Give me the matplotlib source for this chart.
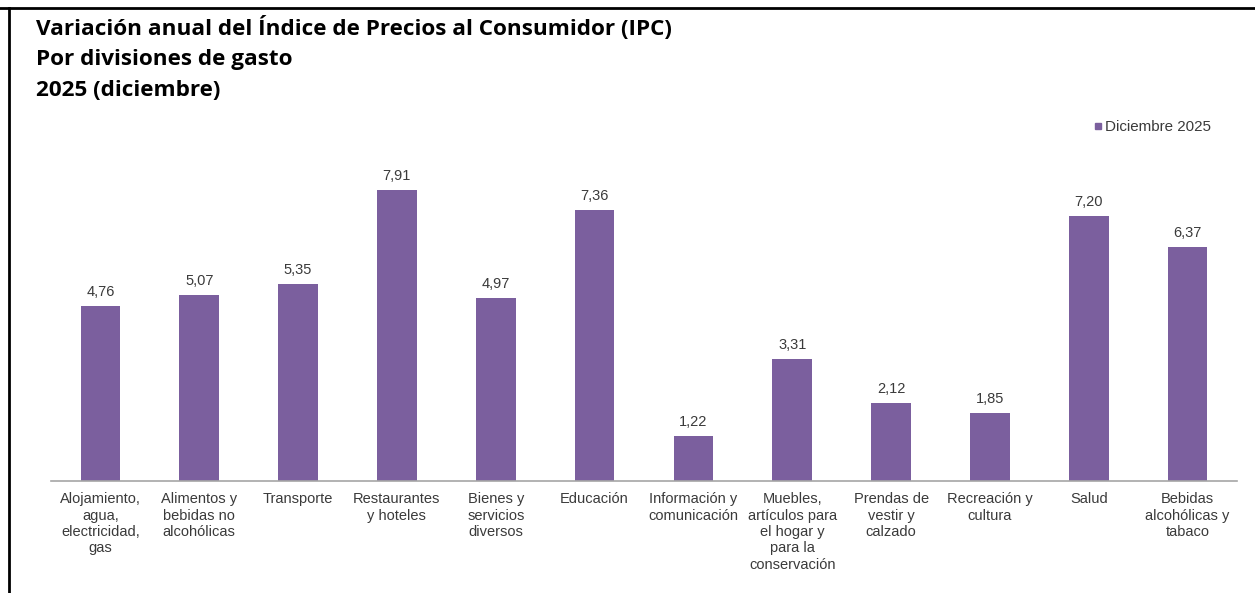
import matplotlib
matplotlib.use('Agg')
import matplotlib.pyplot as plt
from matplotlib.lines import Line2D
import numpy as np

# ======= data
categorias = ['Alojamiento,\nagua,\nelectricidad,\ngas',
              'Alimentos y\nbebidas no\nalcohólicas',
              'Transporte',
              'Restaurantes\ny hoteles',
              'Bienes y\nservicios\ndiversos',
              'Educación',
              'Información y\ncomunicación',
              'Muebles,\nartículos para\nel hogar y\npara la\nconservación',
              'Prendas de\nvestir y\ncalzado',
              'Recreación y\ncultura',
              'Salud',
              'Bebidas\nalcohólicas y\ntabaco']
valores = [4.76, 5.07, 5.35, 7.91, 4.97, 7.36, 1.22, 3.31, 2.12, 1.85, 7.20, 6.37]
serie = 'Diciembre 2025'
titulo = ['Variación anual del Índice de Precios al Consumidor (IPC)',
          'Por divisiones de gasto',
          '2025 (diciembre)']

color_barra = '#7b5f9e'
txt_color = '#3a3a3a'

fig = plt.figure(figsize=(12.55, 5.93), dpi=100)
ax = fig.add_axes([51/1255, 112/593, 1186/1255, 331/593])

x = np.arange(len(valores))
bars = ax.bar(x, valores, width=0.40, color=color_barra, label=serie, zorder=2)
for xi, v in zip(x, valores):
    ax.annotate(f'{v:.2f}'.replace('.', ','), (xi, v), xytext=(0, 5),
                textcoords='offset points', ha='center', va='bottom',
                fontsize=10.5, family='Liberation Sans', color=txt_color)

ax.set_xlim(-0.5, len(valores) - 0.5)
ax.set_ylim(0, 9)
ax.set_yticks([])
ax.set_xticks(x)
ax.set_xticklabels(categorias, fontsize=10.5, family='Liberation Sans',
                   color=txt_color, linespacing=1.22)
ax.tick_params(axis='x', length=0, pad=8)
for s in ['top', 'right', 'left']:
    ax.spines[s].set_visible(False)
ax.spines['bottom'].set_color('#a6a6a6')
ax.spines['bottom'].set_linewidth(1.2)

# legend
handle = Line2D([], [], marker='s', linestyle='', color=color_barra, markersize=5)
fig.legend([handle], [serie], loc='center right', bbox_to_anchor=(1219/1255, 1 - 127/593),
           frameon=False, handletextpad=0.1, handlelength=0.8, borderpad=0,
           prop={'family': 'Liberation Sans', 'size': 10.9}, labelcolor=txt_color)

# title
for i, t in enumerate(titulo):
    fig.text(36/1255, 1 - (28 + 31*i)/593, t, fontsize=16.2, fontweight='bold',
             family='Open Sans', va='center', ha='left', color='black')

# frame lines (top, left)
fig.add_artist(Line2D([0, 1], [1 - 8/593, 1 - 8/593], transform=fig.transFigure,
                      color='black', lw=2))
fig.add_artist(Line2D([9/1255, 9/1255], [0, 1 - 8/593], transform=fig.transFigure,
                      color='black', lw=2))

plt.savefig('out.png', dpi=100)
